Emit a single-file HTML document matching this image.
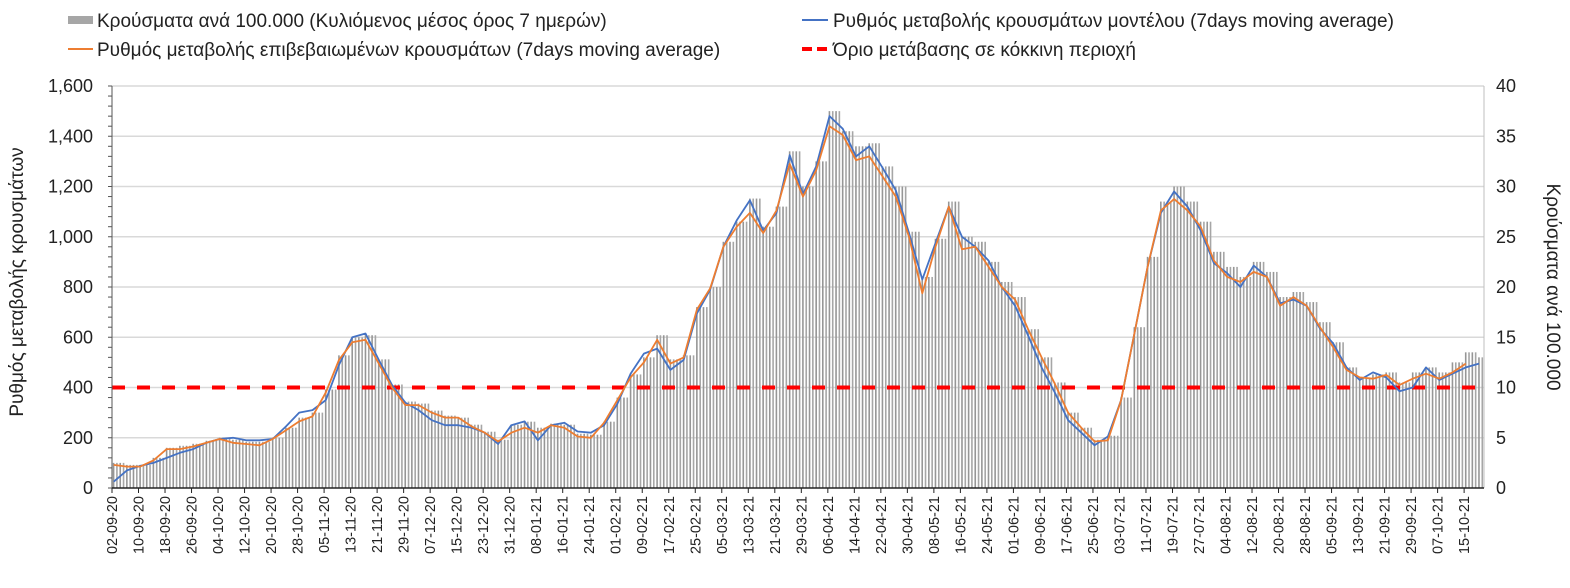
<!DOCTYPE html>
<html><head><meta charset="utf-8">
<style>
body{margin:0;background:#fff;width:1570px;height:583px;overflow:hidden;font-family:"Liberation Sans",sans-serif;}
svg text{font-family:"Liberation Sans","DejaVu Sans",sans-serif;}
</style></head>
<body>
<svg id="chart" width="1570" height="583" xmlns="http://www.w3.org/2000/svg">
<g id="legend">
  <g>
    <rect x="68" y="16" width="25" height="8" fill="#a6a6a6"/>
    <text x="97" y="27" font-size="19" fill="#222">Κρούσματα ανά 100.000 (Κυλιόμενος μέσος όρος 7 ημερών)</text>
  </g>
  <g>
    <line x1="802" y1="20" x2="828" y2="20" stroke="#4472c4" stroke-width="2"/>
    <text x="833" y="27" font-size="19" fill="#222">Ρυθμός μεταβολής κρουσμάτων μοντέλου (7days moving average)</text>
  </g>
  <g>
    <line x1="68" y1="49" x2="93" y2="49" stroke="#ed7d31" stroke-width="2"/>
    <text x="97" y="56" font-size="19" fill="#222">Ρυθμός μεταβολής επιβεβαιωμένων κρουσμάτων (7days moving average)</text>
  </g>
  <g>
    <line x1="802" y1="49" x2="828" y2="49" stroke="#ff0000" stroke-width="4" stroke-dasharray="10,5"/>
    <text x="833" y="56" font-size="19" fill="#222">Όριο μετάβασης σε κόκκινη περιοχή</text>
  </g>
</g>
<g id="grid"></g>
<g id="bars"></g>
<g id="thr"></g>
<g id="lines"></g>
<g id="axes"></g>
<text transform="translate(23,282) rotate(-90)" text-anchor="middle" font-size="19" fill="#222">Ρυθμός μεταβολής κρουσμάτων</text>
<text transform="translate(1547,287) rotate(90)" text-anchor="middle" font-size="19" fill="#222">Κρούσματα ανά 100.000</text>
</svg>
<script>
// data sampled every 4 days starting 02-09-20
const startDate = [2020, 8, 2];
const stepDays = 4;
const confirmedRate = [92,85,85,110,155,155,165,180,195,180,
175,170,195,230,265,285,380,510,580,590,
495,400,330,330,300,280,280,245,220,185,
220,240,220,250,240,205,200,260,350,440,
500,590,495,520,710,795,960,1040,1095,1015,
1105,1290,1160,1265,1440,1405,1305,1320,1240,1160,
1000,775,960,1120,950,960,880,800,750,630,
520,415,300,240,185,190,350,615,880,1105,
1150,1105,1040,905,840,820,860,840,725,760,
725,640,560,470,440,435,450,410,435,455,
435,460,495,null];
const modelRate = [25,70,88,100,120,140,155,180,195,200,
190,190,195,245,300,310,350,490,600,615,
510,410,340,310,270,250,250,240,220,175,
250,265,190,250,260,225,220,250,335,455,
535,555,470,510,695,790,960,1065,1145,1025,
1095,1325,1170,1280,1480,1430,1320,1360,1275,1185,
1015,830,975,1120,1000,960,905,800,725,605,
480,380,270,220,170,205,350,615,880,1095,
1180,1120,1025,895,855,800,885,840,735,750,
725,635,575,480,430,460,440,385,400,480,
430,455,480,495];
const casesPer100k = [2.5,2.3,2.3,3.0,4.0,4.2,4.4,4.7,5.0,4.8,
4.6,4.6,5.0,6.0,7.0,7.5,9.8,13.2,15.0,15.2,
12.8,10.3,8.6,8.4,7.7,7.2,7.0,6.3,5.6,4.8,
6.3,6.6,6.0,6.4,6.3,5.4,5.3,6.6,9.0,11.3,
13.0,15.2,12.8,13.2,18.0,20.0,24.5,26.5,28.8,26.0,
28.0,33.5,30.0,32.5,37.5,35.5,34.0,34.3,32.0,30.0,
25.5,21.0,24.8,28.5,25.0,24.5,22.5,20.5,19.0,15.8,
13.0,10.5,7.5,6.0,4.8,5.2,9.0,16.0,23.0,28.5,
30.0,28.5,26.5,23.5,22.0,21.0,22.5,21.5,19.0,19.5,
18.5,16.5,14.5,12.0,11.0,11.3,11.5,10.5,11.5,12.0,
11.5,12.5,13.5,13.0];
const threshold = 400;
const leftTicks = [0,200,400,600,800,1000,1200,1400,1600];
const rightTicks = [0,5,10,15,20,25,30,35,40];
const totalDays = 414;
const labelEvery = 8;

const NS='http://www.w3.org/2000/svg';
const X0=112, X1=1484, Y0=488, Y1=86;
const dayW=(X1-X0)/totalDays;
const xDay=d=>X0+d*dayW;
const yL=v=>Y0-(v/1600)*(Y0-Y1);
const yR=v=>Y0-(v/40)*(Y0-Y1);
function mk(tag,attrs,parent){const e=document.createElementNS(NS,tag);for(const k in attrs)e.setAttribute(k,attrs[k]);parent.appendChild(e);return e;}
const grid=document.getElementById('grid'),bars=document.getElementById('bars'),lines=document.getElementById('lines'),axes=document.getElementById('axes'),thr=document.getElementById('thr');

leftTicks.forEach((t,i)=>{
  if(t>0){const g=mk('line',{x1:X0,x2:X1,y1:yL(t),y2:yL(t),stroke:'#d9d9d9','stroke-width':1.5},grid);
  
  }
  const tx=mk('text',{x:93,y:yL(t)+6,'text-anchor':'end','font-size':18,fill:'#222'},axes);
  tx.textContent=t.toLocaleString('en-US');
  
  
});
for(let v=0;v<=1600;v+=40){mk('line',{x1:X0-4,x2:X0,y1:yL(v),y2:yL(v),stroke:'#555','stroke-width':1},axes);}
rightTicks.forEach(t=>{
  const tx=mk('text',{x:1496,y:yR(t)+6,'font-size':18,fill:'#222'},axes);
  tx.textContent=t;
  
  
});
mk('line',{x1:X1,x2:X1,y1:Y1,y2:Y0,stroke:'#bfbfbf','stroke-width':1},axes);
mk('line',{x1:X0,x2:X0,y1:Y1,y2:Y0,stroke:'#555','stroke-width':1},axes);
mk('line',{x1:X0,x2:X1,y1:Y0,y2:Y0,stroke:'#222','stroke-width':1.5},axes);

// bars: each sample covers stepDays daily bars
casesPer100k.forEach((v,i)=>{
  for(let k=0;k<stepDays;k++){
    const d=i*stepDays+k; if(d>=totalDays)break;
    const b=mk('rect',{x:xDay(d)+0.8,y:yR(v),width:1.6,height:Y0-yR(v),fill:(d%2?'#a6a6a6':'#969696')},bars);
    
    
  }
});
// threshold
const tl=mk('line',{x1:X0,x2:X1,y1:yL(threshold),y2:yL(threshold),stroke:'#ff0000','stroke-width':4,'stroke-dasharray':'13,12'},thr);



function path(arr,color,name){
  let d='';arr.forEach((v,i)=>{if(v==null)return;const x=xDay(i*stepDays+0.5),y=yL(v);d+=(d?'L':'M')+x.toFixed(1)+','+y.toFixed(1);});
  const p=mk('path',{d:d,fill:'none',stroke:color,'stroke-width':1.8,'stroke-linejoin':'round'},lines);
  
  
}
path(modelRate,'#4472c4','model-rate-line');
path(confirmedRate,'#ed7d31','confirmed-rate-line');

// x labels
const base=new Date(Date.UTC(startDate[0],startDate[1],startDate[2]));
for(let d=0;d<totalDays;d+=labelEvery){
  const dt=new Date(base.getTime()+d*86400000);
  const s=String(dt.getUTCDate()).padStart(2,'0')+'-'+String(dt.getUTCMonth()+1).padStart(2,'0')+'-'+String(dt.getUTCFullYear()%100).padStart(2,'0');
  const x=xDay(d);
  mk('line',{x1:x,x2:x,y1:Y0,y2:Y0+5,stroke:'#222','stroke-width':1},axes);
  const t=mk('text',{transform:`translate(${x+5},${Y0+8}) rotate(-90)`,'text-anchor':'end','font-size':14.5,fill:'#222'},axes);
  t.textContent=s;
  
  
}
</script>
</body></html>
